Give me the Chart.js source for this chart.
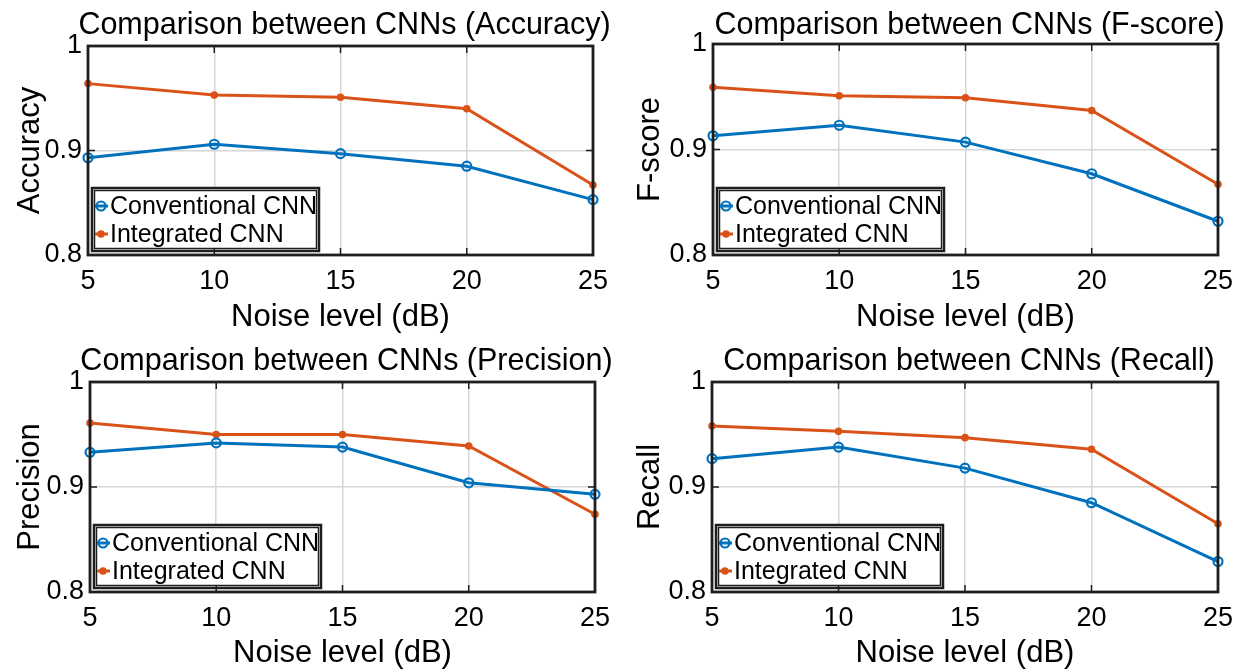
<!DOCTYPE html>
<html>
<head>
<meta charset="utf-8">
<script src="https://cdn.jsdelivr.net/npm/chart.js@4.4.1/dist/chart.umd.min.js"></script>
<style>
  body { margin: 0; background: #fff; }
  #wrap { position: relative; width: 1243px; height: 672px; overflow: hidden; }
  .panel { position: absolute; }
</style>
</head>
<body>
<div id="wrap">
  <div class="panel" style="left:0;top:0"><canvas id="chartAcc" width="620" height="336"></canvas></div>
  <div class="panel" style="left:620px;top:0"><canvas id="chartF" width="623" height="336"></canvas></div>
  <div class="panel" style="left:0;top:336px"><canvas id="chartPrec" width="620" height="336"></canvas></div>
  <div class="panel" style="left:620px;top:336px"><canvas id="chartRec" width="623" height="336"></canvas></div>
</div>
<script>
// noise levels (dB)
const noiseLevels = [5, 10, 15, 20, 25];
const seriesNames = ['Conventional CNN', 'Integrated CNN'];
const yTicks = [0.8, 0.9, 1];

const accConv = [0.893, 0.906, 0.897, 0.885, 0.853];
const accInt = [0.964, 0.953, 0.951, 0.940, 0.867];

const fConv = [0.913, 0.923, 0.907, 0.877, 0.832];
const fInt = [0.959, 0.951, 0.949, 0.937, 0.867];

const precConv = [0.933, 0.942, 0.938, 0.904, 0.893];
const precInt = [0.961, 0.950, 0.950, 0.939, 0.874];

const recConv = [0.927, 0.938, 0.918, 0.885, 0.829];
const recInt = [0.958, 0.953, 0.947, 0.936, 0.865];

const BLUE = '#0072BD';
const ORANGE = '#D95319';
const FONT = '"Liberation Sans", Arial, Helvetica, sans-serif';

Chart.defaults.font.family = FONT;
Chart.defaults.color = '#000';

// title over the plot, wider than the plot (chart.js title would squeeze it)
const plotTitle = {
  id: 'plotTitle',
  afterDraw(chart, args, opts) {
    const { ctx, chartArea: a } = chart;
    ctx.save();
    ctx.fillStyle = '#000';
    ctx.font = '30.5px ' + FONT;
    ctx.textAlign = 'center';
    ctx.textBaseline = 'middle';
    ctx.fillText(opts.text, (a.left + a.right) / 2 + 4, opts.y);
    ctx.restore();
  }
};

// black box round the plot + inward ticks like matlab
const frameBox = {
  id: 'frameBox',
  afterDraw(chart) {
    const { ctx, chartArea: a, scales } = chart;
    ctx.save();
    ctx.strokeStyle = '#1e1e1e';
    ctx.lineWidth = 1.5;
    ctx.beginPath();
    scales.x.ticks.forEach(t => {
      const px = scales.x.getPixelForValue(t.value);
      ctx.moveTo(px, a.bottom); ctx.lineTo(px, a.bottom - 7);
      ctx.moveTo(px, a.top); ctx.lineTo(px, a.top + 7);
    });
    scales.y.ticks.forEach(t => {
      const py = scales.y.getPixelForValue(t.value);
      ctx.moveTo(a.left, py); ctx.lineTo(a.left + 7, py);
      ctx.moveTo(a.right, py); ctx.lineTo(a.right - 7, py);
    });
    ctx.stroke();
    ctx.lineWidth = 2.8;
    ctx.strokeRect(a.left, a.top, a.right - a.left, a.bottom - a.top);
    ctx.restore();
  }
};

// legend box sitting in the lower left corner of the plot
const insetLegend = {
  id: 'insetLegend',
  afterDatasetsDraw(chart) {
    const { ctx, chartArea: a } = chart;
    const w = 227, h = 63;
    const x = a.left + 4, y = a.bottom - 4 - h;
    ctx.save();
    ctx.fillStyle = '#fff';
    ctx.fillRect(x, y, w, h);
    ctx.strokeStyle = '#1e1e1e';
    ctx.lineWidth = 2.5;
    ctx.strokeRect(x, y, w, h);
    ctx.lineWidth = 1.5;
    ctx.strokeRect(x + 2.5, y + 2.5, w - 5, h - 5);
    chart.data.datasets.forEach((ds, i) => {
      const cy = y + 18 + i * 28;
      ctx.strokeStyle = ds.borderColor;
      ctx.lineWidth = 3;
      ctx.beginPath();
      ctx.moveTo(x + 3, cy); ctx.lineTo(x + 16, cy);
      ctx.stroke();
      ctx.beginPath();
      ctx.arc(x + 9, cy, ds.pointRadius, 0, Math.PI * 2);
      if (i === 0) { ctx.lineWidth = 2.2; ctx.stroke(); }
      else { ctx.fillStyle = ds.borderColor; ctx.fill(); }
      ctx.fillStyle = '#000';
      ctx.font = '25px ' + FONT;
      ctx.textBaseline = 'middle';
      ctx.fillText(ds.label, x + 18, cy + 1);
    });
    ctx.restore();
  }
};

function makeChart(id, title, yTitle, conv, integ, box) {
  const ctx = document.getElementById(id).getContext('2d');
  return new Chart(ctx, {
    type: 'line',
    data: {
      datasets: [{
        label: seriesNames[0],
        data: noiseLevels.map((x, i) => ({ x: x, y: conv[i] })),
        borderColor: BLUE,
        borderWidth: 3,
        pointRadius: 4.5,
        pointBorderWidth: 2.2,
        pointBackgroundColor: 'rgba(0,0,0,0)',
        pointBorderColor: BLUE,
        clip: false
      }, {
        label: seriesNames[1],
        data: noiseLevels.map((x, i) => ({ x: x, y: integ[i] })),
        borderColor: ORANGE,
        borderWidth: 3,
        pointRadius: 3.8,
        pointBorderWidth: 0,
        pointBackgroundColor: ORANGE,
        clip: false
      }]
    },
    options: {
      responsive: false,
      animation: false,
      layout: { padding: { left: 0, right: box.pr, top: box.top, bottom: 0 } },
      plugins: {
        legend: { display: false },
        tooltip: { enabled: false },
        title: { display: false },
        plotTitle: { text: title, y: 26 }
      },
      scales: {
        x: {
          type: 'linear',
          min: noiseLevels[0],
          max: noiseLevels[noiseLevels.length - 1],
          afterBuildTicks: s => { s.ticks = noiseLevels.map(v => ({ value: v })); },
          afterFit: s => { s.height = box.xh; },
          ticks: { font: { size: 27 }, padding: 10, color: '#000', maxRotation: 0 },
          grid: { color: '#d6d6d6', lineWidth: 1.5, drawTicks: false },
          border: { display: false },
          title: { display: true, text: 'Noise level (dB)', color: '#000', font: { size: 31 }, padding: { top: 0, bottom: 0 } }
        },
        y: {
          min: 0.8,
          max: 1,
          afterBuildTicks: s => { s.ticks = yTicks.map(v => ({ value: v })); },
          afterFit: s => { s.width = box.left; },
          ticks: { font: { size: 27 }, padding: 6, color: '#000', callback: v => String(+v.toFixed(1)) },
          grid: { color: '#d6d6d6', lineWidth: 1.5, drawTicks: false },
          border: { display: false },
          title: { display: true, text: yTitle, color: '#000', font: { size: 31 }, padding: { top: 12, bottom: 0 } }
        }
      }
    },
    plugins: [insetLegend, frameBox, plotTitle]
  });
}

makeChart('chartAcc', 'Comparison between CNNs (Accuracy)', 'Accuracy', accConv, accInt,
  { left: 88, pr: 27, top: 46, xh: 81 });
makeChart('chartF', 'Comparison between CNNs (F-score)', 'F-score', fConv, fInt,
  { left: 93, pr: 25, top: 44, xh: 81 });
makeChart('chartPrec', 'Comparison between CNNs (Precision)', 'Precision', precConv, precInt,
  { left: 90, pr: 24, top: 46, xh: 80 });
makeChart('chartRec', 'Comparison between CNNs (Recall)', 'Recall', recConv, recInt,
  { left: 92, pr: 25, top: 46, xh: 80 });
</script>
</body>
</html>
